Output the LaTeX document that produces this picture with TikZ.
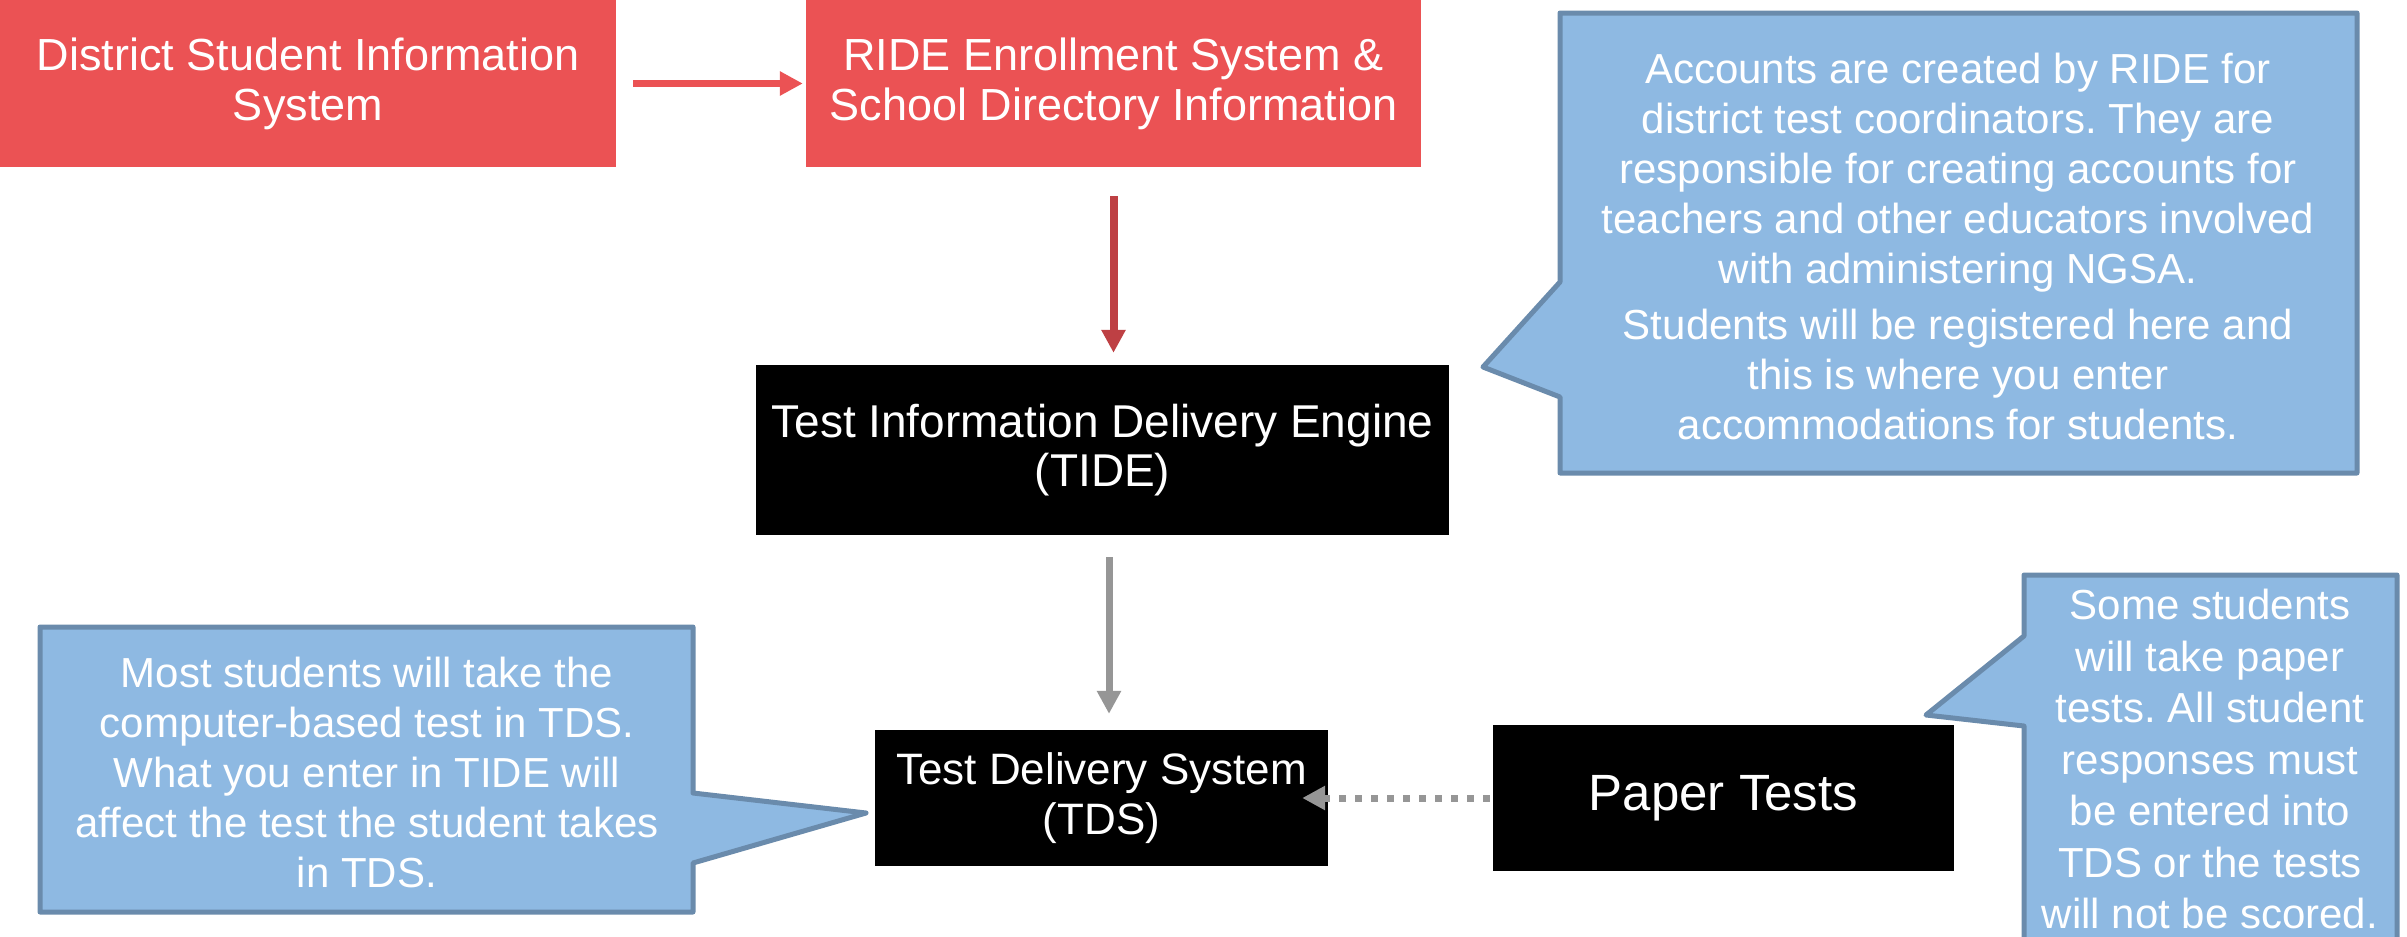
\documentclass[tikz,border=0pt]{standalone}
\usepackage{fontspec}
\setmainfont{Liberation Sans}
\usetikzlibrary{arrows.meta,calc}
\definecolor{boxred}{RGB}{235,82,84}
\definecolor{arrowdark}{RGB}{190,64,68}
\definecolor{arrowgray}{RGB}{150,150,150}
\definecolor{callfill}{RGB}{142,185,226}
\definecolor{callline}{RGB}{106,139,172}
\frenchspacing
\begin{document}
\begin{tikzpicture}[x=1pt,y=-1pt,
  redbox/.style={fill=boxred,text=white,inner sep=0pt,align=center,font=\fontsize{45}{50}\selectfont},
  blackbox/.style={fill=black,text=white,inner sep=0pt,align=center},
  callout/.style={fill=callfill,draw=callline,line width=5pt,line join=round},
  calltext/.style={text=white,align=center,inner sep=0pt,font=\fontsize{42}{50}\selectfont},
  flow/.style={line width=7pt,-{Triangle[length=23pt,width=23pt]}},
]
\useasboundingbox (0,0) rectangle (2407,937);
\fill[white] (0,0) rectangle (2407,937);

% boxes
\node[redbox,minimum width=616pt,minimum height=167pt] (dsis) at (308,83.5) {District Student Information\\System};
\node[redbox,minimum width=615pt,minimum height=167pt] (ride) at (1113.5,83.5) {RIDE Enrollment System \&\\School Directory Information};
\node[blackbox,minimum width=693pt,minimum height=170pt,font=\fontsize{46}{49}\selectfont] (tide) at (1102.5,450) {Test Information Delivery Engine\\(TIDE)};
\node[blackbox,minimum width=453pt,minimum height=136pt,font=\fontsize{44}{50}\selectfont] (tds) at (1101.5,798) {Test Delivery System\\(TDS)};
\node[blackbox,minimum width=461pt,minimum height=146pt,font=\fontsize{51}{56}\selectfont] (paper) at (1723.5,798) {Paper Tests};

% connectors
\draw[flow,boxred,shorten <=17pt,shorten >=3pt] (dsis.east) -- (ride.west);
\draw[flow,arrowdark,line width=8pt,shorten <=29pt,shorten >=12pt] (ride.south) -- (ride.south |- tide.north);
\draw[flow,arrowgray,shorten <=22pt,shorten >=16pt] ([xshift=6.5pt]tide.south) -- ([xshift=6.5pt]tide.south |- tds.north);
\draw[flow,arrowgray,dash pattern=on 7pt off 9pt,shorten <=3pt,shorten >=-26pt] (paper.west) -- (tds.east);

% callouts
\filldraw[callout] (1560,13) -- (2357,13) -- (2357,473) -- (1560,473) -- (1560,397) -- (1483,367) -- (1560,282) -- cycle;
\node[calltext] (notetide) at (1958,246) {Accounts are created by RIDE for\\district test coordinators. They are\\responsible for creating accounts for\\teachers and other educators involved\\with administering NGSA.\\[6pt]Students will be registered here and\\this is where you enter\\accommodations for students.};

\filldraw[callout] (40,627) -- (693,627) -- (693,793) -- (866,813) -- (693,863) -- (693,912) -- (40,912) -- cycle;
\node[calltext] (notetds) at (367,772) {Most students will take the\\computer-based test in TDS.\\What you enter in TIDE will\\affect the test the student takes\\in TDS.};

\filldraw[callout] (2024,575) -- (2397,575) -- (2397,960) -- (2024,960) -- (2024,726) -- (1926,715) -- (2024,636) -- cycle;
\node[calltext,font=\fontsize{42}{51.5}\selectfont] (notepaper) at (2210,759) {Some students\\will take paper\\tests. All student\\responses must\\be entered into\\TDS or the tests\\will not be scored.};
\end{tikzpicture}
\end{document}
